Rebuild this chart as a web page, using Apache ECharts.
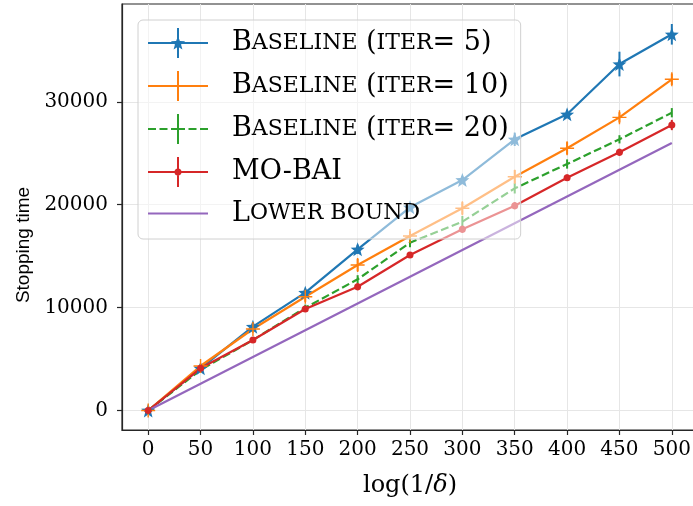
<!DOCTYPE html>
<html><head><meta charset="utf-8">
<script src="https://cdn.jsdelivr.net/npm/echarts@6/dist/echarts.min.js"></script>
<style>html,body{margin:0;padding:0;background:#fff}#c{width:693px;height:506px}</style>
</head><body><div id="c"></div>
<script>
// ---- data ----
const deltaLog = [0, 50, 100, 150, 200, 250, 300, 350, 400, 450, 500];
const iter5      = [0, 4100, 8145, 11450, 15665, 19745, 22400, 26355, 28785, 33670, 36560];
const iter5Err   = [0, 150, 300, 350, 450, 300, 350, 650, 300, 1200, 1000];
const iter10     = [0, 4325, 7920, 11060, 14140, 16960, 19650, 22720, 25480, 28490, 32190];
const iter10Err  = [0, 200, 350, 500, 600, 450, 600, 650, 600, 500, 550];
const iter20     = [0, 3940, 6850, 9990, 12750, 16310, 18350, 21590, 23955, 26355, 28940];
const iter20Err  = [0, 150, 250, 300, 400, 450, 550, 500, 450, 400, 450];
const moBai      = [0, 4100, 6850, 9865, 12030, 15110, 17610, 19905, 22625, 25090, 27745];
const moBaiErr   = [0, 150, 200, 250, 350, 300, 350, 350, 300, 350, 500];
const lowerBound = [0, 2600, 5200, 7800, 10400, 13000, 15600, 18200, 20800, 23400, 26000];
const xTicks = [0, 50, 100, 150, 200, 250, 300, 350, 400, 450, 500];
const yTicks = [0, 10000, 20000, 30000];
const names = ['Baseline (iter= 5)', 'Baseline (iter= 10)', 'Baseline (iter= 20)', 'MO-BAI', 'Lower bound'];
const colors = ['#1f77b4', '#ff7f0e', '#2ca02c', '#d62728', '#9467bd'];

// ---- marker shapes ----
function starPath(cx, cy, R, r) {
  let d = '';
  for (let k = 0; k < 10; k++) {
    const a = k * Math.PI / 5;
    const rad = (k % 2 === 0) ? R : r;
    const x = cx + rad * Math.sin(a), y = cy - rad * Math.cos(a);
    d += (k === 0 ? 'M' : 'L') + x.toFixed(2) + ' ' + y.toFixed(2) + ' ';
  }
  return d + 'Z ';
}
function rect(x0, y0, x1, y1) {
  return `M${x0} ${y0} L${x1} ${y0} L${x1} ${y1} L${x0} ${y1} Z `;
}
const starSym = 'path://' + starPath(10, 10.5, 10, 4.2);
const plusSym = 'path://' + rect(0, 9, 20, 11) + rect(9, 0, 11, 20);
const hLine = rect(0, 14, 60, 16);
const vBar = rect(29, 0, 31, 30);
const dashLine = rect(0, 14, 8, 16) + rect(11.5, 14, 19.5, 16) + rect(23, 14, 37, 16) + rect(40.5, 14, 48.5, 16) + rect(52, 14, 60, 16);
const legendIcons = [
  'path://' + hLine + vBar + starPath(30, 15.5, 7.5, 3.2),
  'path://' + hLine + vBar + rect(23, 14, 37, 16),
  'path://' + dashLine + vBar,
  'path://' + hLine + vBar + 'M30 11.5 A3.5 3.5 0 1 1 29.99 11.5 Z',
  'path://' + hLine
];

function lineSeries(i, ys, extra) {
  return Object.assign({
    type: 'line', name: names[i], z: 2,
    data: deltaLog.map((x, k) => [x, ys[k]]),
    lineStyle: { color: colors[i], width: 2.2 },
    itemStyle: { color: colors[i], borderWidth: 0 },
    showSymbol: true, symbol: 'none', animation: false, clip: true
  }, extra || {});
}
function errSeries(i, ys, errs) {
  return {
    type: 'custom', name: '_err' + i, z: 2, silent: true, animation: false, clip: true,
    data: deltaLog.map((x, k) => [x, ys[k], errs[k]]),
    encode: { x: 0, y: 1 },
    renderItem: function (params, api) {
      const x = api.value(0), y = api.value(1), e = api.value(2);
      const p1 = api.coord([x, y - e]), p2 = api.coord([x, y + e]);
      return { type: 'line', shape: { x1: p1[0], y1: p1[1], x2: p2[0], y2: p2[1] },
               style: { stroke: colors[i], lineWidth: 2 } };
    }
  };
}

function smallCaps(name) {
  const map = {
    'Baseline (iter= 5)': '{sp|}{a|B}{b|ASELINE}{a| (}{b|ITER}{a|= 5)}',
    'Baseline (iter= 10)': '{sp|}{a|B}{b|ASELINE}{a| (}{b|ITER}{a|= 10)}',
    'Baseline (iter= 20)': '{sp|}{a|B}{b|ASELINE}{a| (}{b|ITER}{a|= 20)}',
    'MO-BAI': '{sp|}{a|MO-BAI}',
    'Lower bound': '{sp|}{a|L}{b|OWER BOUND}'
  };
  return map[name];
}

const chart = echarts.init(document.getElementById('c'), null, { renderer: 'canvas' });
const serif = 'DejaVu Serif';
chart.setOption({
  animation: false,
  backgroundColor: '#ffffff',
  grid: { left: 122, top: 4, right: -5, bottom: 76, outerBoundsMode: 'none', containLabel: false,
          show: true, borderColor: '#262626', borderWidth: 1.2, backgroundColor: 'rgba(0,0,0,0)' },
  xAxis: {
    type: 'value', min: -25, max: 525, minInterval: 50, maxInterval: 50,
    name: 'log(1/{i|δ})', nameLocation: 'middle', nameGap: 44,
    nameTextStyle: { fontFamily: serif, fontSize: 24, color: '#000',
      rich: { i: { fontFamily: serif, fontStyle: 'italic', fontSize: 24, color: '#000' } } },
    axisLine: { show: true, onZero: false, lineStyle: { color: '#262626', width: 1.2 } },
    axisTick: { show: true, length: 5, lineStyle: { color: '#262626', width: 1.2 }, customValues: xTicks },
    axisLabel: { fontFamily: serif, fontSize: 20, color: '#000', margin: 10, customValues: xTicks,
      formatter: v => String(v) },
    splitLine: { show: true, lineStyle: { color: '#e6e6e6', width: 1 } }
  },
  yAxis: {
    type: 'value', min: -1895, max: 39505, minInterval: 10000, maxInterval: 10000,
    name: 'Stopping time', nameLocation: 'middle', nameGap: 85,
    nameTextStyle: { fontFamily: 'Liberation Sans', fontSize: 19, color: '#000', padding: [0, 56, 0, 0] },
    axisLine: { show: true, onZero: false, lineStyle: { color: '#262626', width: 1.2 } },
    axisTick: { show: true, length: 5, lineStyle: { color: '#262626', width: 1.2 }, customValues: yTicks },
    axisLabel: { fontFamily: serif, fontSize: 20, color: '#000', margin: 14, customValues: yTicks,
      formatter: v => String(v) },
    splitLine: { show: true, lineStyle: { color: '#e6e6e6', width: 1 } }
  },
  legend: {
    orient: 'vertical', left: 138, top: 20, padding: [8, 12, 12, 10],
    itemWidth: 60, itemHeight: 30, itemGap: 13,
    backgroundColor: 'rgba(255,255,255,0.5)', borderColor: '#d0d0d0', borderWidth: 1, borderRadius: 5,
    selectedMode: false,
    data: names.map((n, i) => ({ name: n, icon: legendIcons[i], itemStyle: { color: colors[i], borderWidth: 0 } })),
    formatter: smallCaps,
    textStyle: {
      color: '#000',
      rich: {
        sp: { width: 19, lineHeight: 30 },
        a: { fontFamily: serif, fontSize: 27, lineHeight: 30, color: '#000' },
        b: { fontFamily: serif, fontSize: 22, lineHeight: 30, color: '#000' }
      }
    }
  },
  series: [
    lineSeries(0, iter5, { symbol: starSym, symbolSize: 14 }),
    errSeries(0, iter5, iter5Err),
    lineSeries(1, iter10, { symbol: plusSym, symbolSize: 14 }),
    errSeries(1, iter10, iter10Err),
    lineSeries(2, iter20, { lineStyle: { color: colors[2], width: 2.2, type: [8, 3.5] } }),
    errSeries(2, iter20, iter20Err),
    lineSeries(3, moBai, { symbol: 'circle', symbolSize: 7 }),
    errSeries(3, moBai, moBaiErr),
    lineSeries(4, lowerBound)
  ]
});
</script></body></html>
